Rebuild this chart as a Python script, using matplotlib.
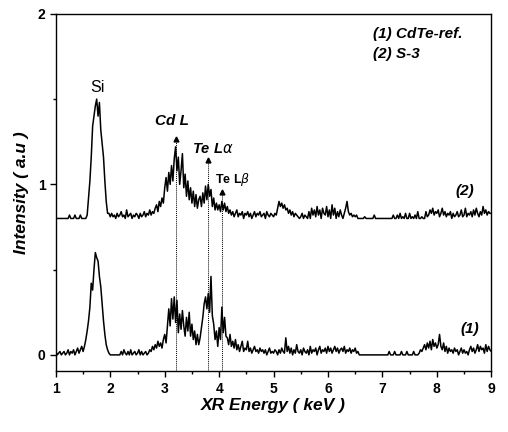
import numpy as np
import matplotlib
matplotlib.use("Agg")
import matplotlib.pyplot as plt

plt.rcParams['font.family'] = ['Liberation Sans', 'DejaVu Sans']

# spectrum S-3 (plotted with +0.8 offset), step 0.025 keV from 1 to 9 keV
s3 = [
    0, 0, 0, 0, 0, 0, 0, 0, 0, 0, 0.02, 0, 0, 0, 0.02, 0, 0, 0, 0.02, 0,
    0, 0, 0, 0.02, 0.12, 0.22, 0.36, 0.54, 0.60, 0.66, 0.70, 0.60, 0.68, 0.52, 0.44, 0.36, 0.22, 0.10, 0.03, 0.03,
    0.01, 0.03, 0.01, 0.02, 0, 0.03, 0.01, 0.02, 0.04, 0.01, 0.02, 0, 0.05, 0.01, 0.02, 0.03, 0, 0.02, 0.01, 0.03,
    0.02, 0, 0.03, 0.01, 0.02, 0.04, 0.01, 0.03, 0.02, 0.05, 0.02, 0.04, 0.03, 0.06, 0.08, 0.04, 0.10, 0.07, 0.12, 0.09,
    0.18, 0.24, 0.16, 0.27, 0.20, 0.31, 0.22, 0.35, 0.42, 0.28, 0.36, 0.20, 0.28, 0.38, 0.18, 0.26, 0.13, 0.22, 0.11, 0.18,
    0.09, 0.16, 0.07, 0.14, 0.06, 0.11, 0.13, 0.07, 0.15, 0.09, 0.19, 0.11, 0.20, 0.13, 0.17, 0.07, 0.12, 0.05, 0.09, 0.05,
    0.08, 0.04, 0.10, 0.05, 0.09, 0.04, 0.07, 0.03, 0.05, 0.02, 0.04, 0.01, 0.03, 0.05, 0.01, 0.03, 0.02, 0.04, 0, 0.03,
    0.02, 0.04, 0.01, 0.03, 0, 0.02, 0.04, 0.01, 0.03, 0.02, 0.04, 0.01, 0.02, 0.03, 0, 0.04, 0.02, 0.01, 0.03, 0.02,
    0.01, 0.03, 0.02, 0.06, 0.10, 0.07, 0.09, 0.06, 0.08, 0.05, 0.06, 0.03, 0.05, 0.02, 0.04, 0.01, 0.03, 0.02, 0.01, 0,
    0.01, 0.03, 0, 0.02, 0.01, 0, 0.04, 0, 0.06, 0.02, 0.05, 0.01, 0.07, 0.02, 0.05, 0, 0.06, 0.03, 0.02, 0.07,
    0.01, 0.05, 0, 0.08, 0.02, 0.06, 0, 0.04, 0.01, 0.05, 0.02, 0, 0.03, 0.06, 0.10, 0.04, 0.02, 0.03, 0.01, 0.02,
    0.01, 0.02, 0, 0, 0, 0, 0, 0.01, 0, 0, 0, 0, 0, 0, 0.02, 0, 0, 0, 0, 0,
    0, 0, 0, 0, 0, 0, 0, 0, 0.02, 0, 0, 0.02, 0, 0.03, 0, 0.01, 0, 0.03, 0, 0,
    0.03, 0, 0.01, 0, 0.02, 0, 0.04, 0, 0, 0.01, 0, 0, 0.04, 0.01, 0.02, 0.05, 0.03, 0.06, 0.02, 0.04,
    0.03, 0.05, 0.01, 0.03, 0.06, 0.02, 0.04, 0.01, 0.03, 0.02, 0.04, 0, 0.03, 0.01, 0.02, 0.04, 0.01, 0.02, 0.05, 0.01,
    0.02, 0.06, 0.01, 0.03, 0.02, 0.04, 0.01, 0.05, 0.02, 0.06, 0.03, 0.01, 0.04, 0.02, 0.07, 0.03, 0.05, 0.02, 0.04, 0.03,
    0.03,
]

# spectrum CdTe reference
ref = [
    0.02, 0, 0.01, 0.02, 0, 0.01, 0.02, 0, 0.01, 0.03, 0, 0.02, 0.01, 0.03, 0, 0.02, 0.04, 0.01, 0.03, 0.05,
    0.02, 0.05, 0.09, 0.14, 0.20, 0.28, 0.42, 0.38, 0.50, 0.60, 0.57, 0.55, 0.46, 0.40, 0.30, 0.20, 0.12, 0.06, 0.03, 0.01,
    0, 0, 0, 0, 0, 0, 0, 0, 0.02, 0, 0.03, 0.01, 0, 0.02, 0, 0.03, 0, 0.01, 0.02, 0,
    0.01, 0.03, 0, 0.02, 0, 0.01, 0.02, 0, 0.01, 0.03, 0.02, 0.05, 0.03, 0.06, 0.04, 0.08, 0.05, 0.07, 0.04, 0.09,
    0.12, 0.07, 0.17, 0.27, 0.17, 0.33, 0.21, 0.34, 0.19, 0.32, 0.13, 0.24, 0.15, 0.26, 0.17, 0.11, 0.22, 0.14, 0.25, 0.11,
    0.18, 0.09, 0.14, 0.06, 0.12, 0.06, 0.10, 0.16, 0.22, 0.30, 0.34, 0.27, 0.36, 0.25, 0.46, 0.23, 0.18, 0.09, 0.14, 0.05,
    0.16, 0.09, 0.28, 0.13, 0.22, 0.11, 0.10, 0.06, 0.12, 0.05, 0.08, 0.04, 0.09, 0.03, 0.06, 0.02, 0.05, 0.08, 0.02, 0.04,
    0.03, 0.08, 0.02, 0.04, 0.01, 0.03, 0.05, 0.02, 0.03, 0.01, 0.04, 0.02, 0.03, 0.01, 0.03, 0, 0.02, 0.04, 0.01, 0.02,
    0.01, 0.03, 0.02, 0, 0.03, 0.01, 0.04, 0.02, 0.01, 0.10, 0.02, 0.05, 0.01, 0.04, 0, 0.03, 0.01, 0.06, 0.02, 0.01,
    0.03, 0, 0.04, 0.02, 0.01, 0.03, 0, 0.05, 0.01, 0.03, 0.02, 0.04, 0, 0.03, 0.05, 0.01, 0.03, 0.02, 0.04, 0.01,
    0.05, 0.02, 0.04, 0.01, 0.03, 0.05, 0.02, 0.04, 0.01, 0.03, 0.04, 0.02, 0.05, 0.01, 0.03, 0.02, 0.04, 0.01, 0.03, 0.02,
    0.04, 0.01, 0.02, 0, 0, 0, 0, 0, 0, 0, 0, 0, 0, 0, 0, 0, 0, 0, 0, 0,
    0, 0, 0, 0, 0, 0.02, 0, 0, 0, 0.02, 0, 0, 0, 0, 0.02, 0, 0, 0, 0.02, 0,
    0, 0, 0, 0.02, 0, 0, 0, 0.01, 0.03, 0.02, 0.04, 0.06, 0.03, 0.07, 0.04, 0.08, 0.03, 0.09, 0.05, 0.07,
    0.04, 0.06, 0.12, 0.05, 0.03, 0.07, 0.02, 0.05, 0.01, 0.04, 0.02, 0.03, 0.01, 0.04, 0.02, 0.03, 0, 0.02, 0.04, 0.01,
    0.03, 0.01, 0.02, 0, 0.03, 0.05, 0.02, 0.04, 0.01, 0.03, 0.06, 0.02, 0.05, 0.03, 0.04, 0.01, 0.06, 0.02, 0.05, 0.03,
    0.02,
]

offset = 0.8
# line positions (keV) and arrow tops
line_x = [3.20, 3.79, 4.05]
line_top = [1.28, 1.155, 0.97]

E = np.linspace(1, 9, len(ref))

fig = plt.figure(figsize=(5.08, 4.32), dpi=100)
ax = fig.add_axes([0.110, 0.141, 0.857, 0.827])

ax.plot(E, ref, color='black', lw=1.1)
ax.plot(E, np.array(s3) + offset, color='black', lw=1.1)

ymin = -0.095
for lx, lt in zip(line_x, line_top):
    ax.plot([lx, lx], [ymin, lt - 0.02], color='black', lw=0.7, ls=(0, (1, 1)))
    ax.plot(lx, lt - 0.015, marker='^', color='black', ms=3.5)

ax.text(1.76, 1.57, "Si", fontsize=11.5, ha='center', va='center')
ax.text(3.13, 1.37, "Cd L", fontsize=11, fontweight='bold', style='italic', ha='center', va='center')
ax.text(3.88, 1.21, r"Te L$\alpha$", fontsize=10.5, fontweight='bold', style='italic', ha='center', va='center')
ax.text(4.24, 1.03, r"Te L$\beta$", fontsize=9, fontweight='bold', ha='center', va='center')
ax.text(8.52, 0.96, "(2)", fontsize=11, fontweight='bold', style='italic', ha='center', va='center')
ax.text(8.6, 0.15, "(1)", fontsize=11, fontweight='bold', style='italic', ha='center', va='center')
ax.text(6.83, 1.88, "(1) CdTe-ref.", fontsize=11, fontweight='bold', style='italic', ha='left', va='center')
ax.text(6.83, 1.765, "(2) S-3", fontsize=11, fontweight='bold', style='italic', ha='left', va='center')

ax.set_xlim(1, 9)
ax.set_ylim(ymin, 2)
ax.set_xticks(range(1, 10))
ax.set_xticks(np.arange(1.5, 9, 1), minor=True)
ax.set_yticks([0, 1, 2])
ax.set_yticks([0.5, 1.5], minor=True)
ax.tick_params(direction='out', length=4, width=1, labelsize=10)
ax.tick_params(which='minor', direction='out', length=2.5, width=1)
for lab in ax.get_xticklabels() + ax.get_yticklabels():
    lab.set_fontweight('bold')
for sp in ax.spines.values():
    sp.set_linewidth(1)

ax.set_xlabel("XR Energy ( keV )", fontsize=12.5, fontweight='bold', style='italic', labelpad=2)
ax.set_ylabel("Intensity ( a.u )", fontsize=12.5, fontweight='bold', style='italic', labelpad=6)

plt.savefig("out.png", dpi=100)
